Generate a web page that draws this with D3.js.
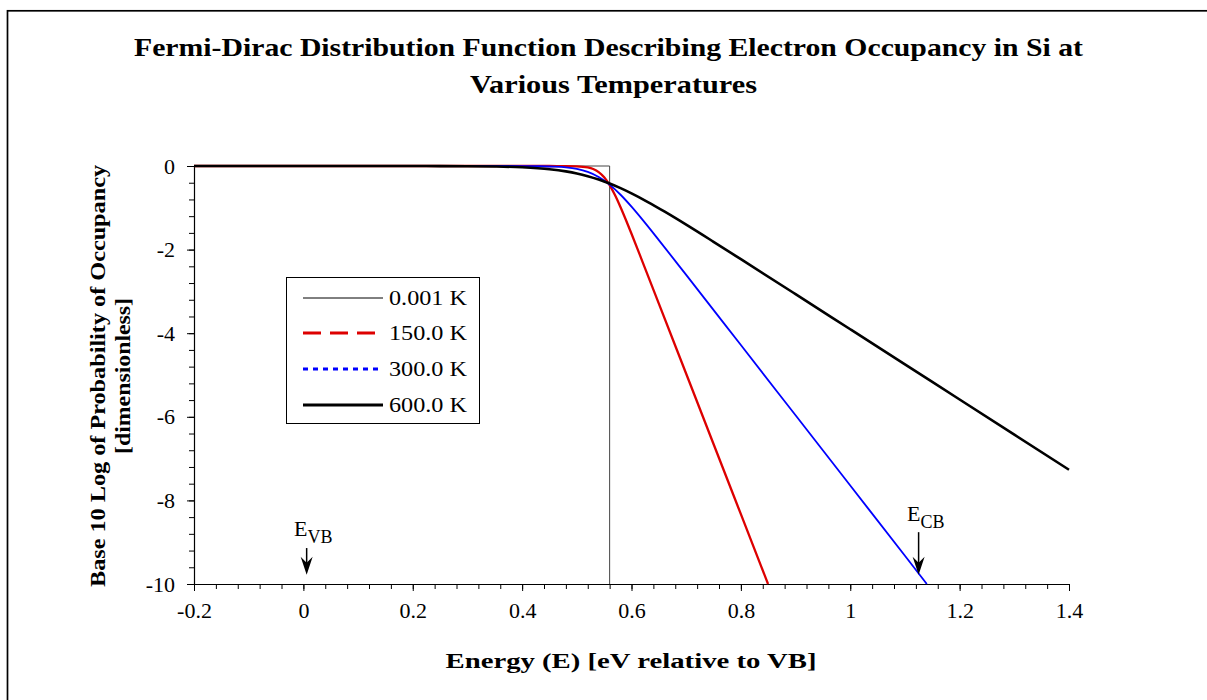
<!DOCTYPE html>
<html>
<head>
<meta charset="utf-8">
<style>
  body { margin: 0; background: #fff; }
  svg text { font-family: "Liberation Serif", "Times New Roman", serif; fill: #000; }
</style>
</head>
<body>
<div id="chart"></div>
<script src="https://d3js.org/d3.v7.min.js"></script>
<script>
// energy (eV relative to VB) and log10 occupancy
var energy0 = [-0.2, 0.56, 0.56];
var logf0   = [0, 0, -10];

var energy150 = [-0.2, 0.3, 0.4, 0.45, 0.48, 0.5, 0.52, 0.53, 0.54, 0.55, 0.56, 0.57, 0.58, 0.59, 0.6, 0.62, 0.65, 0.7, 0.75, 0.8, 0.8497];
var logf150   = [0, 0, 0, -0.0002, -0.002, -0.008, -0.035, -0.073, -0.145, -0.269, -0.456, -0.701, -0.988, -1.299, -1.622, -2.286, -3.292, -4.971, -6.65, -8.33, -10];

var energy300 = [-0.2, 0.2, 0.3, 0.35, 0.4, 0.43, 0.46, 0.48, 0.5, 0.52, 0.54, 0.55, 0.56, 0.58, 0.6, 0.62, 0.65, 0.7, 0.8, 0.9, 1.0, 1.1, 1.14];
var logf300   = [0, 0, 0, -0.0002, -0.0016, -0.005, -0.016, -0.034, -0.07, -0.14, -0.261, -0.345, -0.445, -0.688, -0.973, -1.283, -1.772, -2.605, -4.284, -5.964, -7.644, -9.324, -10];

var energy600 = [-0.2, 0.0, 0.1, 0.2, 0.25, 0.3, 0.35, 0.4, 0.45, 0.48, 0.5, 0.52, 0.54, 0.56, 0.58, 0.6, 0.63, 0.66, 0.7, 0.75, 0.8, 0.9, 1.0, 1.1, 1.2, 1.3, 1.4];
var logf600   = [0, 0, -0.0001, -0.0007, -0.002, -0.005, -0.012, -0.031, -0.077, -0.129, -0.178, -0.243, -0.323, -0.419, -0.53, -0.655, -0.862, -1.087, -1.403, -1.813, -2.229, -3.066, -3.906, -4.746, -5.586, -6.426, -7.266];

var seriesNames = ["0.001 K", "150.0 K", "300.0 K", "600.0 K"];
var xTicks = [-0.2, 0, 0.2, 0.4, 0.6, 0.8, 1, 1.2, 1.4];
var xTickLabels = ["-0.2", "0", "0.2", "0.4", "0.6", "0.8", "1", "1.2", "1.4"];
var yTicks = [0, -2, -4, -6, -8, -10];
var yTickLabels = ["0", "-2", "-4", "-6", "-8", "-10"];

var width = 1207, height = 700;

var svg = d3.select("#chart").append("svg")
    .attr("width", width)
    .attr("height", height);

// outer frame
svg.append("rect")
    .attr("x", 7.5).attr("y", 10.8)
    .attr("width", 2000).attr("height", 2000)
    .style("fill", "none").style("stroke", "#000").style("stroke-width", 1.7);

var x = d3.scaleLinear().domain([-0.2, 1.4]).range([194, 1069]);
var y = d3.scaleLinear().domain([-10, 0]).range([584, 166]);

// minor ticks first, then major
svg.append("g")
    .attr("transform", "translate(0,584)")
    .call(d3.axisBottom(x).tickValues(d3.range(-0.2, 1.4001, 0.04)).tickSize(5).tickFormat(""))
    .call(function(g) { g.select(".domain").remove(); });
svg.append("g")
    .attr("transform", "translate(194,0)")
    .call(d3.axisLeft(y).tickValues(d3.range(-10, 0.001, 0.4)).tickSize(5).tickFormat(""))
    .call(function(g) { g.select(".domain").remove(); });

var xAxis = svg.append("g")
    .attr("transform", "translate(0,584)")
    .call(d3.axisBottom(x).tickValues(xTicks).tickSize(7).tickSizeOuter(0).tickPadding(11)
        .tickFormat(function(d, i) { return xTickLabels[i]; }));
xAxis.selectAll("text").style("font-size", "22px");

var yAxis = svg.append("g")
    .attr("transform", "translate(194,0)")
    .call(d3.axisLeft(y).tickValues(yTicks).tickSize(7).tickSizeOuter(0).tickPadding(12)
        .tickFormat(function(d, i) { return yTickLabels[i]; }));
yAxis.selectAll("text").style("font-size", "22px");
svg.selectAll(".domain").style("stroke-width", 1.2);

// curves
var line = d3.line()
    .x(function(d) { return x(d[0]); })
    .y(function(d) { return y(d[1]); });
var smooth = d3.line()
    .x(function(d) { return x(d[0]); })
    .y(function(d) { return y(d[1]); })
    .curve(d3.curveMonotoneX);

function pairs(e, v) { return e.map(function(d, i) { return [d, v[i]]; }); }

var curves = [
  { name: seriesNames[0], pts: pairs(energy0, logf0),     color: "#444",    w: 1,   dash: null },
  { name: seriesNames[1], pts: pairs(energy150, logf150), color: "#dd0000", w: 2.3, dash: "18,9" },
  { name: seriesNames[2], pts: pairs(energy300, logf300), color: "#0000ff", w: 1.8, dash: "5,5" },
  { name: seriesNames[3], pts: pairs(energy600, logf600), color: "#000",    w: 2.6, dash: null }
];

svg.append("g").selectAll("path")
  .data(curves)
  .enter().append("path")
    .attr("d", function(d, i) { return i === 0 ? line(d.pts) : smooth(d.pts); })
    .style("fill", "none")
    .style("stroke", function(d) { return d.color; })
    .style("stroke-width", function(d) { return d.w; });

// legend
var legend = svg.append("g");
legend.append("rect")
    .attr("x", 286.5).attr("y", 277.5).attr("width", 193).attr("height", 146)
    .style("fill", "#fff").style("stroke", "#000").style("stroke-width", 1);
var rowY = [298, 333, 369, 405];
var items = legend.selectAll("g.item")
  .data(curves)
  .enter().append("g").attr("class", "item");
items.append("line")
    .attr("x1", 303).attr("x2", 383)
    .attr("y1", function(d, i) { return rowY[i]; })
    .attr("y2", function(d, i) { return rowY[i]; })
    .style("stroke", function(d) { return d.color === "#444" ? "#000" : d.color; })
    .style("stroke-width", function(d, i) { return [1, 3, 3, 3][i]; })
    .style("stroke-dasharray", function(d) { return d.dash; });
items.append("text")
    .attr("x", 389)
    .attr("y", function(d, i) { return rowY[i] + 7; })
    .attr("textLength", 78).attr("lengthAdjust", "spacingAndGlyphs")
    .style("font-size", "21px")
    .text(function(d) { return d.name; });

// band edge annotations
function arrow(e, yTop, yTip) {
  var ax = x(e), t = y(yTip), top = y(yTop);
  svg.append("line").attr("x1", ax).attr("x2", ax).attr("y1", top).attr("y2", t - 10)
      .style("stroke", "#000").style("stroke-width", 1.5);
  svg.append("path")
      .attr("d", "M" + ax + "," + t + "L" + (ax - 6) + "," + (t - 18) + "L" + ax + "," + (t - 12) + "L" + (ax + 6) + "," + (t - 18) + "Z")
      .style("fill", "#000");
}
arrow(0.006, -9.14, -9.78);
arrow(1.125, -8.76, -9.78);

var evb = svg.append("text").attr("x", 294).attr("y", 536).style("font-size", "22px");
evb.append("tspan").text("E");
evb.append("tspan").attr("dy", 7).style("font-size", "18px").text("VB");
var ecb = svg.append("text").attr("x", 907).attr("y", 521).style("font-size", "22px");
ecb.append("tspan").text("E");
ecb.append("tspan").attr("dy", 7).style("font-size", "18px").text("CB");

// titles
svg.append("text")
    .attr("x", 608.5).attr("y", 56)
    .attr("text-anchor", "middle")
    .attr("textLength", 949).attr("lengthAdjust", "spacingAndGlyphs")
    .style("font-size", "25px").style("font-weight", "bold")
    .text("Fermi-Dirac Distribution Function Describing Electron Occupancy in Si at");
svg.append("text")
    .attr("x", 613.5).attr("y", 93)
    .attr("text-anchor", "middle")
    .attr("textLength", 287).attr("lengthAdjust", "spacingAndGlyphs")
    .style("font-size", "25px").style("font-weight", "bold")
    .text("Various Temperatures");

svg.append("text")
    .attr("x", 631).attr("y", 668)
    .attr("text-anchor", "middle")
    .attr("textLength", 371).attr("lengthAdjust", "spacingAndGlyphs")
    .style("font-size", "20px").style("font-weight", "bold")
    .text("Energy (E) [eV relative to VB]");

svg.append("text")
    .attr("transform", "translate(105,376) rotate(-90)")
    .attr("text-anchor", "middle")
    .attr("textLength", 422).attr("lengthAdjust", "spacingAndGlyphs")
    .style("font-size", "20px").style("font-weight", "bold")
    .text("Base 10 Log of Probability of Occupancy");
svg.append("text")
    .attr("transform", "translate(130,376) rotate(-90)")
    .attr("text-anchor", "middle")
    .attr("textLength", 156).attr("lengthAdjust", "spacingAndGlyphs")
    .style("font-size", "20px").style("font-weight", "bold")
    .text("[dimensionless]");
</script>
</body>
</html>
